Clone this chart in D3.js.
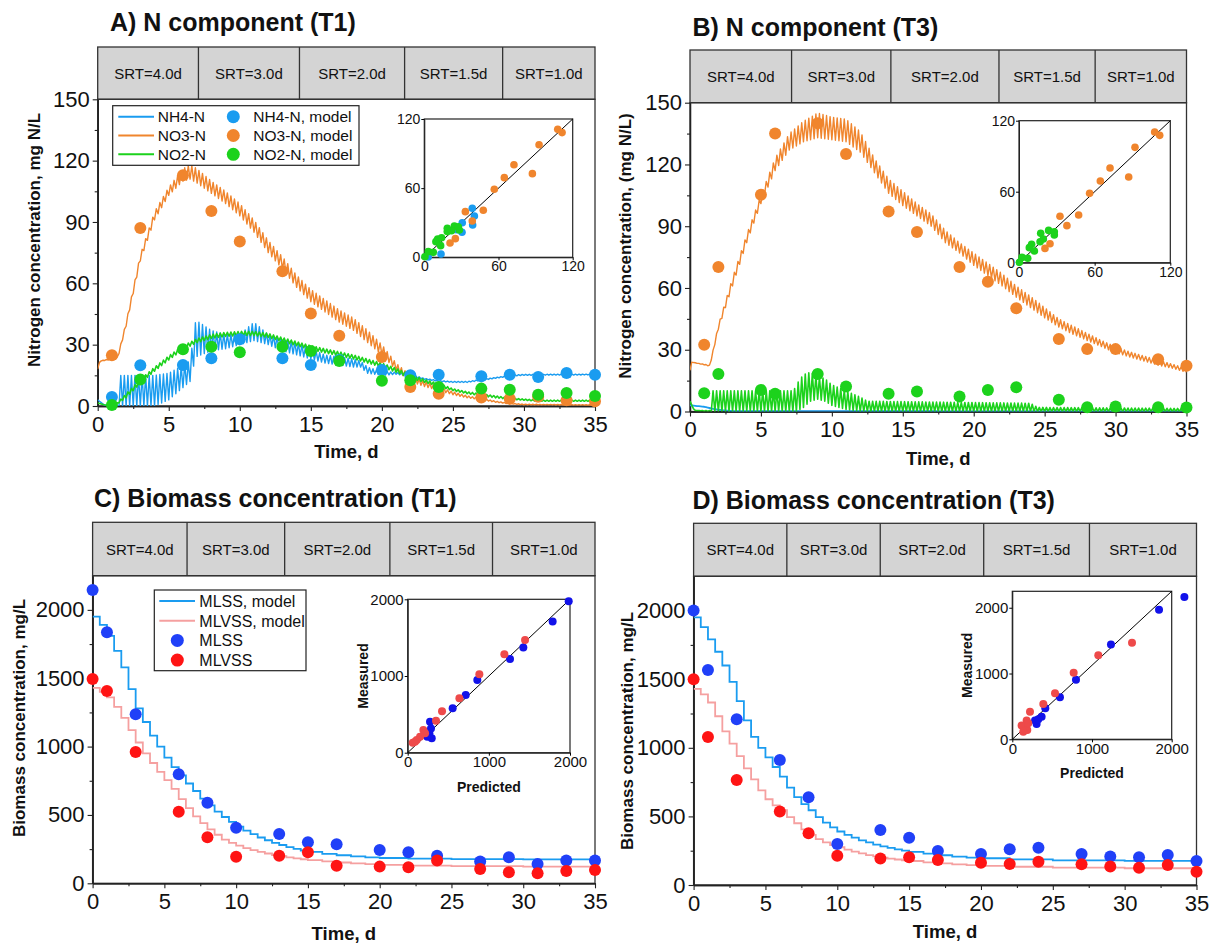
<!DOCTYPE html>
<html>
<head>
<meta charset="utf-8">
<script src="https://cdnjs.cloudflare.com/ajax/libs/d3/7.8.5/d3.min.js"></script>
<style>
  body { margin: 0; background: #fff; }
  svg text { font-family: "Liberation Sans", Arial, Helvetica, sans-serif; fill: #111; }
</style>
</head>
<body>
<svg id="fig" width="1213" height="944"></svg>
<script>
// ---------- data ----------
const srtLabels = ["SRT=4.0d", "SRT=3.0d", "SRT=2.0d", "SRT=1.5d", "SRT=1.0d"];
const srtSplitA = [7.09, 14.2, 21.6, 28.5];
const srtSplitB = [7.16, 14.16, 21.78, 28.56];
const srtSplitC = [6.58, 13.38, 20.71, 27.86];
const srtSplitD = [6.49, 12.99, 20.19, 27.55];

// panel A, sampling days and dot values
const daysA = [1, 3, 6, 8, 10, 13, 15, 17, 20, 22, 24, 27, 29, 31, 33, 35];
const nh4DotsA = [4.4, 19.9, 20, 23.3, 32.6, 23.3, 20, 22.5, 17.6, 15, 15.3, 14.5, 15.3, 14.2, 16.1, 15.3];
const no3DotsA = [24.8, 87.1, 112.8, 95.4, 80.5, 65.9, 45.2, 34.4, 24, 9.3, 6, 4.1, 3.6, 4.5, 2.8, 2.3];
const no2DotsA = [0.5, 13, 27.7, 29, 26.3, 29, 26.9, 22, 12.4, 12.6, 9.3, 8.5, 8, 5.5, 6.4, 4.9];

// model lines: [day, lower edge, upper edge] of the daily saw-tooth band
const nh4LineA = [[0,3,3],[0.5,0.3,0.3],[1.4,0.3,0.3],[1.5,0,15],[4,0,15],[5,3,16],[6,9,20],[6.5,12,22],[6.9,24,42],[8,27,37],[9,28,35],[10,30,35],[11,32,41],[11.5,31,38],[12,30,35],[13,27,33],[14,25,31],[15,23,28],[16,21,25],[17,20,24],[18,19,23],[18.5,19,22],[19,16,19],[20,15,17],[21,15.5,16.5],[22,14.5,15.5],[23,13,13.5],[24,12,12.5],[25,11.5,12],[26,11.5,12],[27,12.5,13],[28,13.5,14],[29,14.5,15],[30,15,15.5],[35,15.2,15.6]];
const no3LineA = [[0,18,18],[0.15,22,22],[1.4,23,24],[2,39,41],[3,71,74],[4,91,95],[5,103,107],[6,110,116],[6.5,111,118],[7,109,116],[8,104,110],[9,99,105],[10,93,99],[11,85,91],[12,75,81],[13,67,73],[14,58,64],[15,51,57],[16,46,52],[17,41,47],[18,37,43],[19,31,37],[20,25,30],[21,17.5,21],[22,12,15],[23,9.5,12],[24,7.5,9.5],[25,5.5,7],[26,4,5],[27,3,3.8],[28,1.8,2.4],[29,1,1.4],[30,0.6,0.9],[35,0.4,0.6]];
const no2LineA = [[0,1.5,1.5],[0.5,0.5,0.5],[1.2,0,0.3],[2,4,6],[3,11,13],[4,17,19],[5,22.5,24.5],[6,27.5,29.5],[7,31,33],[8,33,35],[9,34,36],[10,34.5,36.5],[11,34.5,36.5],[12,33.5,35.5],[13,31.5,33.5],[14,29.5,31.5],[15,27.5,29.5],[16,26,28],[17,24.5,26.5],[18,23,25],[19,21,23],[20,19,21],[21,16.5,18.5],[22,13.5,15.5],[23,11.5,13],[24,9.5,11],[25,7.5,8.5],[26,6,7],[27,5,6],[28,4,5],[29,3.3,4],[30,2.8,3.4],[31,2.3,2.9],[35,2.3,2.9]];

// panel B
const daysB = [1, 2, 5, 6, 9, 11, 14, 16, 19, 21, 23, 26, 28, 30, 33, 35];
const no3DotsB = [32.4, 70.2, 105.3, 135, 140, 125.1, 97.1, 87.2, 70.2, 63, 50.1, 35.2, 30.3, 30.3, 25.4, 22.2];
const no2DotsB = [8.9, 18.2, 10.5, 8.6, 18.2, 12.2, 8.6, 9.7, 7.3, 10.5, 11.8, 5.7, 2.1, 2.4, 2.1, 1.9];
const nh4LineB = [[0,3,3],[1,2.3,2.3],[1.5,1.5,1.5],[2,0.8,0.8],[3,0.2,0.2],[35,0,0]];
const no3LineB = [[0,20,20],[0.1,24,24],[1.4,22,22.5],[2,40,42],[3,61,65],[4,82,86],[5,101,105],[6,117,123],[7,127,135],[8,131,141],[9,133,145],[10,132,143],[11,131,142],[12,126,136],[13,116,123],[14,106,113],[15,100,107],[16,95,101],[17,90,96],[18,82,88],[19,77,82],[20,71,77],[21,66,72],[22,61,67],[23,55.5,61],[24,50.5,56],[25,45.5,50.5],[26,41,45],[27,37.5,41.5],[28,34.5,38],[29,31.5,34.5],[30,28.5,31.5],[31,26.5,29],[32,24.5,27],[33,22.5,25],[34,21,23],[35,19,21]];
const no2LineB = [[0,5,5],[0.3,0.5,0.5],[1.4,0,0.5],[1.5,0,10],[7.3,0,10],[7.5,0,13],[8,2,18],[8.5,5,19],[9,6,17],[9.5,5,16],[10,3,13],[11,1,10],[12,0,7],[12.5,0,5],[24,0,4],[24.5,0,2],[35,0,1.5]];

// panels C and D
const daysCD = [0, 1, 3, 6, 8, 10, 13, 15, 17, 20, 22, 24, 27, 29, 31, 33, 35];
const mlssDotsC = [2146, 1837, 1237, 798, 590, 407, 361, 300, 285, 244, 227, 202, 159, 190, 141, 166, 166];
const mlvssDotsC = [1495, 1407, 961, 524, 337, 195, 202, 227, 129, 122, 117, 166, 105, 80, 73, 90, 98];
const mlssDotsD = [2000, 1567, 1208, 911, 639, 299, 401, 345, 248, 226, 260, 272, 226, 207, 202, 219, 175];
const mlvssDotsD = [1499, 1079, 765, 535, 377, 214, 194, 202, 182, 163, 153, 170, 151, 134, 126, 146, 97];

const mlssLineC = [[0,1950],[0.5,1890],[1,1810],[1.5,1700],[2,1580],[2.5,1420],[3,1280],[3.5,1180],[4,1080],[4.5,1000],[5,920],[5.5,850],[6,790],[6.5,730],[7,675],[7.5,620],[8,570],[8.5,525],[9,485],[9.5,450],[10,415],[10.5,385],[11,360],[11.5,335],[12,315],[12.5,295],[13,280],[13.5,265],[14,252],[14.5,240],[15,230],[16,215],[17,205],[18,197],[19,190],[20,185],[22,180],[25,177],[30,175],[35,175]];
const mlvssLineC = [[0,1430],[0.5,1400],[1,1360],[1.5,1290],[2,1210],[2.5,1120],[3,1030],[3.5,950],[4,880],[4.5,815],[5,755],[5.5,690],[6,615],[6.5,550],[7,490],[7.5,440],[8,395],[8.5,355],[9,320],[9.5,295],[10,275],[10.5,258],[11,243],[11.5,230],[12,218],[12.5,207],[13,198],[13.5,190],[14,182],[14.5,176],[15,170],[16,160],[17,152],[18,146],[19,140],[20,135],[22,130],[25,126],[30,122],[35,120]];
const mlssLineD = [[0,1950],[0.5,1880],[1,1790],[1.5,1700],[2,1600],[2.5,1480],[3,1340],[3.5,1200],[4,1080],[4.5,1000],[5,930],[5.5,860],[6,790],[6.5,710],[7,640],[7.5,590],[8,545],[8.5,495],[9,455],[9.5,420],[10,390],[10.5,365],[11,345],[11.5,325],[12,310],[12.5,295],[13,282],[13.5,270],[14,260],[14.5,250],[15,242],[16,228],[17,217],[18,207],[19,200],[20,195],[22,187],[25,180],[30,176],[35,175]];
const mlvssLineD = [[0,1430],[0.5,1390],[1,1330],[1.5,1230],[2,1120],[2.5,1030],[3,940],[3.5,850],[4,770],[4.5,690],[5,625],[5.5,580],[6,545],[6.5,495],[7,450],[7.5,405],[8,365],[8.5,335],[9,310],[9.5,290],[10,275],[10.5,258],[11,243],[11.5,230],[12,218],[12.5,208],[13,200],[13.5,192],[14,186],[14.5,180],[15,175],[16,165],[17,157],[18,150],[19,145],[20,140],[22,133],[25,127],[30,122],[35,120]];

// inset scatter: [predicted, measured]
const insNh4A = [[38.8,42.5],[40.5,35.9],[39.1,28.0],[30.7,30.0],[30.5,21.7],[13.5,2.9],[3.2,0.2],[26,24]];
const insNo3A = [[107.9,111],[111.4,108.2],[92.8,97.7],[72.5,80.3],[87.4,72.6],[64.7,69.1],[56.6,59.0],[47.7,40.8],[33.2,39.6],[38.8,31.5],[25.1,16.2],[20.8,12.4]];
const insNo2A = [[18.6,25.2],[24.3,27.2],[28.3,23.7],[27.5,26.5],[10.8,15.9],[9.4,13.6],[13.2,10.1],[18.6,22.3],[3.2,4.9],[7.3,4.3],[0.5,0.5],[22,23.1],[14,17]];
const insNo3B = [[107.6,110.4],[111.6,107.6],[92,97.5],[72.2,80],[87,72.4],[64.5,69],[56,58.6],[47.3,40.3],[32.5,39.2],[38,31.3],[24.6,16],[20.6,12.1]];
const insNo2B = [[17.2,24.8],[23.5,27.3],[28,23.4],[28,26.2],[10,15.5],[8.2,12.7],[12.2,9.9],[19.3,20],[2.4,4.5],[6.9,3.7],[0.3,0.3],[16.7,17.7]];
const insMlssC = [[1984,1974],[1786,1709],[1425,1370],[1261,1222],[858,948],[715,752],[554,578],[275,404],[287,317],[267,252],[242,209],[296,187]];
const insMlvssC = [[1446,1470],[1191,1283],[883,1022],[637,709],[423,539],[349,417],[193,296],[214,252],[152,209],[111,165],[62,130],[90,143]];
const insMlssD = [[2159,2162],[1841,1970],[1238,1443],[799,906],[598,638],[414,471],[368,344],[305,233],[285,284],[326,304]];
const insMlvssD = [[1502,1468],[1079,1276],[770,1013],[536,699],[389,537],[222,420],[180,284],[159,192],[117,208],[188,142],[138,116],[200,243]];

const cycleDay = 0.25; // feeding cycle seen as the saw-tooth period

// ---------- colours ----------
const cBlue = "#1a9cf0", cOrange = "#f0852d", cGreen = "#1cd21c";
const cMlssLine = "#1a9cf0", cMlvssLine = "#f5a0a0";
const cMlssDot = "#2040f8", cMlvssDot = "#ff1414";
const cInsBlue = "#1212ea", cInsRed = "#ee4a4a";

const svg = d3.select("#fig");
const fmt = d3.format("d");

function panel(p) {
  const g = svg.append("g");
  const x = d3.scaleLinear().domain([0, 35]).range([p.x0, p.x1]);
  const y = d3.scaleLinear().domain(p.yDomain).range([p.yBot, p.yTop]);

  // SRT header
  const edges = [0].concat(p.splits, [35]);
  g.append("rect").attr("x", p.x0).attr("y", p.boxTop)
    .attr("width", p.x1 - p.x0).attr("height", p.yTop - p.boxTop)
    .attr("fill", "#d4d4d4").attr("stroke", "#333").attr("stroke-width", 1.3);
  g.selectAll("line.div").data(p.splits).enter().append("line")
    .attr("x1", d => x(d)).attr("x2", d => x(d))
    .attr("y1", p.boxTop).attr("y2", p.yTop)
    .attr("stroke", "#333").attr("stroke-width", 1.3);
  g.selectAll("text.srt").data(srtLabels).enter().append("text")
    .attr("x", (d, i) => (x(edges[i]) + x(edges[i + 1])) / 2)
    .attr("y", (p.boxTop + p.yTop) / 2 + 5.5)
    .attr("text-anchor", "middle").attr("font-size", 15).text(d => d);

  // frame
  g.append("rect").attr("x", p.x0).attr("y", p.yTop)
    .attr("width", p.x1 - p.x0).attr("height", p.yBot - p.yTop)
    .attr("fill", "none").attr("stroke", "#333").attr("stroke-width", 1.3);

  // axes
  const xa = g.append("g").attr("transform", `translate(0,${p.yBot})`)
    .call(d3.axisBottom(x).tickValues(d3.range(0, 36, 5)).tickFormat(fmt).tickSize(5).tickPadding(5).tickSizeOuter(0));
  g.append("g").attr("transform", `translate(0,${p.yBot})`)
    .call(d3.axisBottom(x).tickValues(d3.range(2.5, 35, 5)).tickSize(3).tickFormat("").tickSizeOuter(0));
  const ya = g.append("g").attr("transform", `translate(${p.x0},0)`)
    .call(d3.axisLeft(y).tickValues(p.yTicks).tickFormat(fmt).tickSize(5).tickPadding(3).tickSizeOuter(0));
  g.append("g").attr("transform", `translate(${p.x0},0)`)
    .call(d3.axisLeft(y).tickValues(p.yMinor).tickSize(3).tickFormat("").tickSizeOuter(0));
  g.selectAll(".domain").attr("stroke", "#222").attr("stroke-width", 1.3);
  g.selectAll(".tick line").attr("stroke", "#222").attr("stroke-width", 1.1);
  xa.selectAll("text").attr("font-size", 22).attr("fill", "#111");
  ya.selectAll("text").attr("font-size", 22).attr("fill", "#111");

  // titles
  g.append("text").attr("x", p.titleX).attr("y", p.titleY)
    .attr("font-size", 25).attr("font-weight", "bold").text(p.title);
  g.append("text").attr("x", (p.x0 + p.x1) / 2).attr("y", p.xTitleY)
    .attr("text-anchor", "middle").attr("font-size", 18.5).attr("font-weight", "bold").text("Time, d");
  g.append("text").attr("transform", `translate(${p.yTitleX + 6},${p.yTitleY}) rotate(-90)`)
    .attr("text-anchor", "middle").attr("font-size", 17).attr("font-weight", "bold").text(p.yTitle);

  const clipId = "clip" + p.id;
  svg.append("clipPath").attr("id", clipId).append("rect")
    .attr("x", p.x0).attr("y", p.yTop).attr("width", p.x1 - p.x0).attr("height", p.yBot - p.yTop);
  const plot = g.append("g").attr("clip-path", `url(#${clipId})`);
  return { g, plot, x, y };
}

// saw-tooth band: alternate lower / upper edge each half cycle
function sawTooth(env) {
  const ts = env.map(d => d[0]);
  const lo = d3.scaleLinear().domain(ts).range(env.map(d => d[1]));
  const hi = d3.scaleLinear().domain(ts).range(env.map(d => d[2]));
  const step = cycleDay / 2;
  const n = Math.round((ts[ts.length - 1] - ts[0]) / step);
  return d3.range(n + 1).map(i => {
    const t = ts[0] + i * step;
    return [t, i % 2 ? hi(t) : lo(t)];
  });
}

function modelLine(P, env, color, w) {
  P.plot.append("path").datum(sawTooth(env))
    .attr("fill", "none").attr("stroke", color).attr("stroke-width", w || 1.4)
    .attr("stroke-linejoin", "round")
    .attr("d", d3.line().x(d => P.x(d[0])).y(d => P.y(d[1])));
}

function stepLine(P, data, color) {
  P.plot.append("path").datum(data)
    .attr("fill", "none").attr("stroke", color).attr("stroke-width", 1.8)
    .attr("d", d3.line().curve(d3.curveStepAfter).x(d => P.x(d[0])).y(d => P.y(d[1])));
}

function dots(P, days, vals, color) {
  P.g.append("g").selectAll("circle").data(days).enter().append("circle")
    .attr("cx", d => P.x(d)).attr("cy", (d, i) => P.y(vals[i]))
    .attr("r", 6).attr("fill", color);
}

function inset(s) {
  const g = svg.append("g");
  const x = d3.scaleLinear().domain([0, s.xMax]).range([s.x0, s.x1]);
  const y = d3.scaleLinear().domain([0, s.yMax]).range([s.y1, s.y0]);
  g.append("rect").attr("x", s.x0).attr("y", s.y0).attr("width", s.x1 - s.x0).attr("height", s.y1 - s.y0)
    .attr("fill", "#fff").attr("stroke", "#222").attr("stroke-width", 1.2);
  g.append("g").attr("transform", `translate(0,${s.y1})`)
    .call(d3.axisBottom(x).tickValues(s.ticks).tickFormat(fmt).tickSize(3).tickPadding(1).tickSizeOuter(0));
  g.append("g").attr("transform", `translate(${s.x0},0)`)
    .call(d3.axisLeft(y).tickValues(s.ticks).tickFormat(fmt).tickSize(3).tickPadding(1).tickSizeOuter(0));
  g.selectAll(".domain").attr("stroke", "#222");
  g.selectAll("text").attr("font-size", s.fs).attr("fill", "#111");
  g.append("line").attr("x1", x(0)).attr("y1", y(0)).attr("x2", x(s.xMax)).attr("y2", y(s.yMax))
    .attr("stroke", "#000").attr("stroke-width", 1);
  s.series.forEach(sr => {
    g.append("g").selectAll("circle").data(sr.data).enter().append("circle")
      .attr("cx", d => x(d[0])).attr("cy", d => y(d[1])).attr("r", s.r).attr("fill", sr.color);
  });
  if (s.labels) {
    g.append("text").attr("x", (s.x0 + s.x1) / 2).attr("y", s.y1 + 39)
      .attr("text-anchor", "middle").attr("font-size", 14).attr("font-weight", "bold").text("Predicted");
    g.append("text").attr("transform", `translate(${s.x0 - 40},${(s.y0 + s.y1) / 2}) rotate(-90)`)
      .attr("text-anchor", "middle").attr("font-size", 14).attr("font-weight", "bold").text("Measured");
  }
}

// ---------- panel A ----------
const A = panel({ id: "A", x0: 97.7, x1: 595, yTop: 99.3, yBot: 406, boxTop: 47, yDomain: [0, 150],
  yTicks: d3.range(0, 151, 30), yMinor: d3.range(15, 150, 30), splits: srtSplitA,
  title: "A) N component (T1)", titleX: 110, titleY: 31, xTitleY: 458,
  yTitle: "Nitrogen concentration, mg N/L", yTitleX: 34, yTitleY: 240 });
dots(A, daysA, nh4DotsA, cBlue);
dots(A, daysA, no3DotsA, cOrange);
dots(A, daysA, no2DotsA, cGreen);
modelLine(A, nh4LineA, cBlue);
modelLine(A, no3LineA, cOrange);
modelLine(A, no2LineA, cGreen, 1.6);

// legend A
const legA = svg.append("g");
legA.append("rect").attr("x", 112.7).attr("y", 105.7).attr("width", 246.3).attr("height", 59.6)
  .attr("fill", "#fff").attr("stroke", "#222").attr("stroke-width", 1.2);
const legRowsA = [["NH4-N", cBlue], ["NO3-N", cOrange], ["NO2-N", cGreen]];
legRowsA.forEach((r, i) => {
  const yy = 116.7 + i * 18.8;
  legA.append("line").attr("x1", 118.3).attr("x2", 154).attr("y1", yy).attr("y2", yy)
    .attr("stroke", r[1]).attr("stroke-width", 2);
  legA.append("text").attr("x", 157.7).attr("y", yy + 5.5).attr("font-size", 15.5).text(r[0]);
  legA.append("circle").attr("cx", 233.3).attr("cy", yy).attr("r", 6.5).attr("fill", r[1]);
  legA.append("text").attr("x", 253.3).attr("y", yy + 5.5).attr("font-size", 15.5).text(r[0] + ", model");
});

inset({ x0: 424.3, x1: 572.7, y0: 119, y1: 257.3, xMax: 120, yMax: 120, ticks: [0, 60, 120], fs: 14, r: 3.8,
  series: [{ data: insNh4A, color: cBlue }, { data: insNo3A, color: cOrange }, { data: insNo2A, color: cGreen }] });

// ---------- panel B ----------
const B = panel({ id: "B", x0: 690, x1: 1186.5, yTop: 102.7, yBot: 411.5, boxTop: 50, yDomain: [0, 150],
  yTicks: d3.range(0, 151, 30), yMinor: d3.range(15, 150, 30), splits: srtSplitB,
  title: "B) N component (T3)", titleX: 692.5, titleY: 36, xTitleY: 464.5,
  yTitle: "Nitrogen concentration, (mg N/L)", yTitleX: 625, yTitleY: 246 });
dots(B, daysB, no3DotsB, cOrange);
dots(B, daysB, no2DotsB, cGreen);
modelLine(B, nh4LineB, cBlue, 1.8);
modelLine(B, no3LineB, cOrange);
modelLine(B, no2LineB, cGreen, 1.6);

inset({ x0: 1019, x1: 1170.3, y0: 120.7, y1: 262.7, xMax: 120, yMax: 120, ticks: [0, 60, 120], fs: 14, r: 3.8,
  series: [{ data: insNo3B, color: cOrange }, { data: insNo2B, color: cGreen }] });

// ---------- panel C ----------
const C = panel({ id: "C", x0: 92.6, x1: 595, yTop: 575.7, yBot: 883.3, boxTop: 522.3, yDomain: [0, 2250],
  yTicks: d3.range(0, 2001, 500), yMinor: d3.range(250, 2250, 500), splits: srtSplitC,
  title: "C) Biomass concentration (T1)", titleX: 94, titleY: 507, xTitleY: 939.5,
  yTitle: "Biomass concentration, mg/L", yTitleX: 19, yTitleY: 718 });
stepLine(C, mlssLineC, cMlssLine);
stepLine(C, mlvssLineC, cMlvssLine);
dots(C, daysCD, mlssDotsC, cMlssDot);
dots(C, daysCD, mlvssDotsC, cMlvssDot);

const legC = svg.append("g");
legC.append("rect").attr("x", 154.3).attr("y", 590).attr("width", 151.7).attr("height", 80.7)
  .attr("fill", "#fff").attr("stroke", "#222").attr("stroke-width", 1.2);
const legRowsC = [["MLSS, model", cMlssLine, "line"], ["MLVSS, model", cMlvssLine, "line"],
  ["MLSS", cMlssDot, "dot"], ["MLVSS", cMlvssDot, "dot"]];
legRowsC.forEach((r, i) => {
  const yy = 601 + i * 19.7;
  if (r[2] === "line") {
    legC.append("line").attr("x1", 159.3).attr("x2", 195).attr("y1", yy).attr("y2", yy)
      .attr("stroke", r[1]).attr("stroke-width", 2);
  } else {
    legC.append("circle").attr("cx", 177.3).attr("cy", yy).attr("r", 6.5).attr("fill", r[1]);
  }
  legC.append("text").attr("x", 199.3).attr("y", yy + 5.8).attr("font-size", 16).text(r[0]);
});

inset({ x0: 407.7, x1: 570, y0: 599.3, y1: 752.7, xMax: 2000, yMax: 2000, ticks: [0, 1000, 2000], fs: 15, r: 4,
  labels: true, series: [{ data: insMlssC, color: cInsBlue }, { data: insMlvssC, color: cInsRed }] });

// ---------- panel D ----------
const D = panel({ id: "D", x0: 693.6, x1: 1196.5, yTop: 576.3, yBot: 885, boxTop: 523.3, yDomain: [0, 2250],
  yTicks: d3.range(0, 2001, 500), yMinor: d3.range(250, 2250, 500), splits: srtSplitD,
  title: "D) Biomass concentration (T3)", titleX: 692.4, titleY: 509, xTitleY: 938,
  yTitle: "Biomass concentration, mg/L", yTitleX: 627, yTitleY: 731 });
stepLine(D, mlssLineD, cMlssLine);
stepLine(D, mlvssLineD, cMlvssLine);
dots(D, daysCD, mlssDotsD, cMlssDot);
dots(D, daysCD, mlvssDotsD, cMlvssDot);

inset({ x0: 1012.3, x1: 1171.7, y0: 591.3, y1: 739.3, xMax: 2000, yMax: 2250, ticks: [0, 1000, 2000], fs: 15, r: 4,
  labels: true, series: [{ data: insMlssD, color: cInsBlue }, { data: insMlvssD, color: cInsRed }] });
</script>
</body>
</html>
